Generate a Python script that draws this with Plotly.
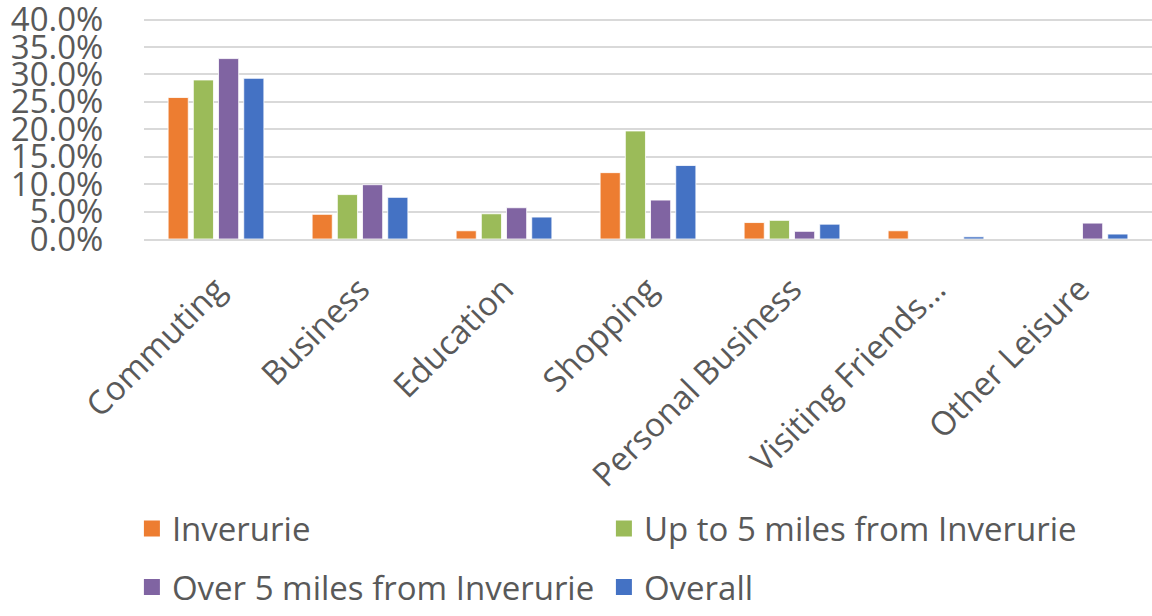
import plotly.graph_objects as go

categories = ["Commuting", "Business", "Education", "Shopping",
              "Personal Business", "Visiting Friends...", "Other Leisure"]

inverurie = [25.8, 4.5, 1.5, 12.1, 3.0, 1.5, 0.0]
up_to_5 = [29.0, 8.1, 4.6, 19.7, 3.4, 0.0, 0.0]
over_5 = [32.9, 9.9, 5.7, 7.1, 1.4, 0.0, 2.9]
overall = [29.3, 7.6, 4.0, 13.4, 2.7, 0.4, 0.9]

series_names = ["Inverurie", "Up to 5 miles from Inverurie",
                "Over 5 miles from Inverurie", "Overall"]
series_values = [inverurie, up_to_5, over_5, overall]
colors = ["#ED7D31", "#9BBB59", "#8064A2", "#4472C4"]
# two legend rows, two entries each
legend_rows = ["legend", "legend", "legend2", "legend2"]

y_ticks = [0, 5, 10, 15, 20, 25, 30, 35, 40]
y_tick_labels = [f"{v:.1f}%" for v in y_ticks]

FONT = "Open Sans"
TEXT = "#595959"
FS = 33

fig = go.Figure()
for name, vals, col in zip(series_names, series_values, colors):
    fig.add_trace(go.Bar(
        x=categories, y=vals, name=name, showlegend=False,
        marker=dict(color=col, line=dict(color="white", width=0.8)),
    ))

# legend entries with larger square swatches
for name, col, lg in zip(series_names, colors, legend_rows):
    fig.add_trace(go.Scatter(
        x=[None], y=[None], mode="markers", name=name, legend=lg,
        marker=dict(symbol="square", size=18, color=col),
    ))

legend_common = dict(
    orientation="h", x=-0.012, xanchor="left", yanchor="middle",
    entrywidth=427, entrywidthmode="pixels", itemsizing="trace",
    font=dict(family=FONT, size=FS, color=TEXT),
    bgcolor="rgba(0,0,0,0)",
)

fig.update_layout(
    width=1152, height=616,
    margin=dict(l=144, r=0, t=18, b=372),
    paper_bgcolor="white", plot_bgcolor="white",
    barmode="group", bargap=0.3, bargroupgap=0.2,
    font=dict(family=FONT, size=FS, color=TEXT),
    legend=dict(y=-1.31, **legend_common),
    legend2=dict(y=-1.575, **legend_common),
)
fig.update_yaxes(
    range=[0, 40.3], tickvals=y_ticks, ticktext=y_tick_labels,
    showgrid=True, gridcolor="#D9D9D9", gridwidth=1.5,
    zeroline=False, showline=False,
    ticks="outside", ticklen=33, tickcolor="rgba(0,0,0,0)",
    ticklabeloverflow="allow",
    tickfont=dict(family=FONT, size=FS, color=TEXT), automargin=False,
)
fig.update_xaxes(
    tickangle=-45, showline=True, linecolor="#D9D9D9", linewidth=1.5,
    ticks="outside", ticklen=16, tickcolor="rgba(0,0,0,0)",
    ticklabeloverflow="allow",
    tickfont=dict(family=FONT, size=FS, color=TEXT),
    automargin=False,
)

fig.write_html("out.html")
